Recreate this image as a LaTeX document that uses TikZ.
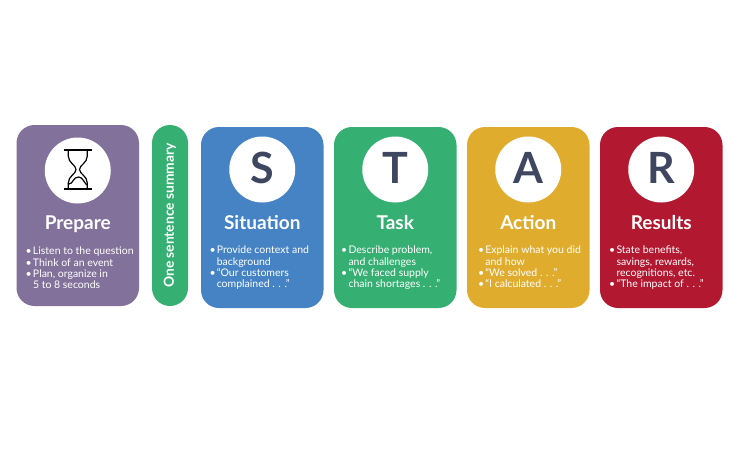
\documentclass[tikz,border=0pt]{standalone}
\usepackage{fontspec}
\usepackage{xcolor}
\usetikzlibrary{positioning}
\setmainfont{Lato}

\definecolor{prepareCol}{HTML}{82719A}
\definecolor{situationCol}{HTML}{4583C4}
\definecolor{greenCol}{HTML}{36AF72}
\definecolor{actionCol}{HTML}{DFAC2E}
\definecolor{resultsCol}{HTML}{B2182F}
\definecolor{letterCol}{HTML}{3F4660}

\newcommand{\bul}{\makebox[7.3pt][l]{\textbullet}}
\newcommand{\hang}{\hspace*{7.3pt}}

\tikzset{
  card/.style={rounded corners=18pt, minimum width=122.5pt, minimum height=181pt, inner sep=0pt, outer sep=0pt},
  badge/.style={circle, fill=white, minimum size=66pt, inner sep=0pt, outer sep=0pt, text=letterCol, text height=31pt, text depth=3pt, font=\fontsize{43}{43}\selectfont\bfseries},
  heading/.style={text=white, inner sep=0pt, text height=14pt, text depth=4pt, font=\fontsize{19}{20}\selectfont\bfseries},
  body/.style={text=white, inner sep=0pt, align=left, font=\fontsize{10.5}{11.35}\selectfont},
}

\begin{document}
\begin{tikzpicture}[x=1pt,y=-1pt]
  \useasboundingbox (0,0) rectangle (740,464);

  \node[card, fill=prepareCol] (prepare) at (77.75,215.5) {};
  \node[card, fill=greenCol, minimum width=36pt] (summary) [right=13pt of prepare] {};
  \node[card, fill=situationCol] (situation) [right=13pt of summary, yshift=-2pt] {};
  \node[card, fill=greenCol] (task) [right=10.5pt of situation] {};
  \node[card, fill=actionCol] (action) [right=10.5pt of task] {};
  \node[card, fill=resultsCol] (results) [right=10.5pt of action] {};

  \node[badge] (hourglass) [below=12.5pt of prepare.north] {};
  \node[badge] (s) [below=9.5pt of situation.north] {S};
  \node[badge] (t) [below=9.5pt of task.north] {T};
  \node[badge] (a) [below=9.5pt of action.north] {A};
  \node[badge] (r) [below=9.5pt of results.north] {R};

  % hourglass icon
  \begin{scope}[black, line width=1.2pt]
    \draw (64.3,150) -- (91.7,150);
    \draw (64.3,189) -- (91.7,189);
    \draw (68.3,150) -- (68.3,156) .. controls (68.3,163) and (76,165) .. (76,169.5)
          .. controls (76,174) and (68.3,176) .. (68.3,183) -- (68.3,189);
    \draw (87.3,150) -- (87.3,156) .. controls (87.3,163) and (79.5,165) .. (79.5,169.5)
          .. controls (79.5,174) and (87.3,176) .. (87.3,183) -- (87.3,189);
    \draw (69,184) .. controls (73,184) and (73,177) .. (78.5,177)
          .. controls (83,177) and (84,183) .. (87,185);
  \end{scope}

  \node[heading] (prepareTitle) [below=12pt of hourglass] {Prepare};
  \node[heading] (situationTitle) [below=13pt of s] {Situation};
  \node[heading] (taskTitle) [below=13pt of t] {Task};
  \node[heading] (actionTitle) [below=13pt of a] {Action};
  \node[heading] (resultsTitle) [below=13pt of r] {Results};

  \node[body] (prepareText) [below right=122pt and 9pt of prepare.north west]
    {\bul Listen to the question\\ \bul Think of an event\\ \bul Plan, organize in\\ \hang 5 to 8 seconds};
  \node[body] (situationText) [below right=119pt and 8.3pt of situation.north west]
    {\bul Provide context and\\ \hang background\\ \bul “Our customers\\ \hang complained . . .”};
  \node[body] (taskText) [below right=119pt and 7pt of task.north west]
    {\bul Describe problem,\\ \hang and challenges\\ \bul “We faced supply\\ \hang chain shortages . . .”};
  \node[body] (actionText) [below right=119pt and 10.8pt of action.north west]
    {\bul Explain what you did\\ \hang and how\\ \bul “We solved . . .”\\ \bul “I calculated . . .”};
  \node[body] (resultsText) [below right=119pt and 9pt of results.north west]
    {\bul State benefits,\\ \hang savings, rewards,\\ \hang recognitions, etc.\\ \bul “The impact of . . .”};

  \node[text=white, rotate=90, inner sep=0pt, font=\fontsize{13.8}{14}\selectfont\bfseries] (summaryText) at (summary.center) {One sentence summary};
\end{tikzpicture}
\end{document}
